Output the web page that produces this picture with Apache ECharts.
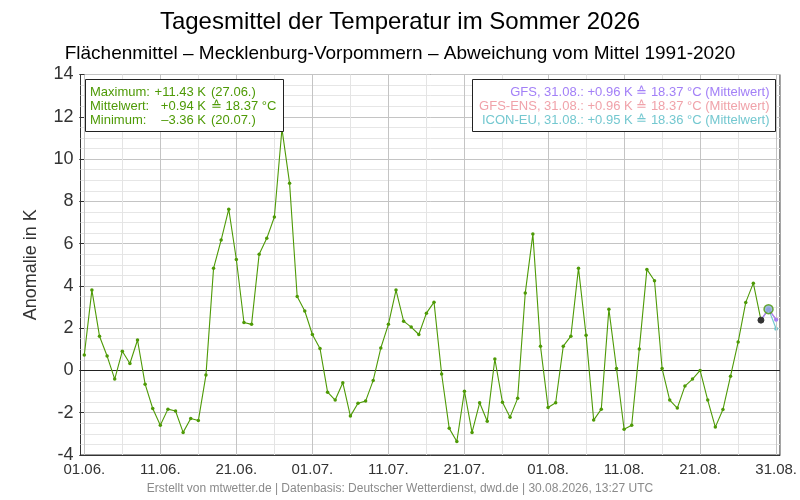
<!DOCTYPE html>
<html>
<head>
<meta charset="utf-8">
<script src="https://cdn.jsdelivr.net/npm/echarts@6/dist/echarts.min.js"></script>
<style>
html,body{margin:0;padding:0;background:#fff;}
#c{width:800px;height:500px;}
</style>
</head>
<body>
<div id="c"></div>
<script>
// ---- data ----
// daily anomalies (K), day 0 = 01.06. ... day 89 = 29.08.
var observed = [
  0.73, 3.80, 1.62, 0.68, -0.41, 0.91, 0.33, 1.44, -0.65, -1.80,
  -2.59, -1.83, -1.92, -2.93, -2.27, -2.37, -0.22, 4.83, 6.17, 7.63,
  5.25, 2.27, 2.18, 5.50, 6.25, 7.26, 11.43, 8.86, 3.50, 2.81,
  1.70, 1.04, -1.03, -1.40, -0.58, -2.16, -1.55, -1.45, -0.47, 1.06,
  2.18, 3.80, 2.33, 2.05, 1.70, 2.71, 3.23, -0.17, -2.74, -3.36,
  -0.98, -2.93, -1.53, -2.40, 0.54, -1.50, -2.21, -1.32, 3.66, 6.45,
  1.15, -1.75, -1.53, 1.15, 1.62, 4.84, 1.66, -2.35, -1.83, 2.90,
  0.09, -2.78, -2.59, 1.01, 4.78, 4.24, 0.09, -1.40, -1.78, -0.74,
  -0.41, 0.00, -1.40, -2.68, -1.85, -0.27, 1.34, 3.22, 4.13, 2.38
];
// forecast days (29.08., 30.08., 31.08.)
var forecastDays = [89, 90, 91];
var gfs     = [2.38, 2.90, 2.40];
var gfsEns  = [2.38, 2.90, 2.42];
var iconEu  = [2.38, 2.90, 1.97];
var todayDay = [90];
var todayValue = [2.90];

var tickDays   = [0, 10, 20, 30, 40, 50, 61, 71, 81, 91];
var tickLabels = ['01.06.', '11.06.', '21.06.', '01.07.', '11.07.', '21.07.', '01.08.', '11.08.', '21.08.', '31.08.'];
var minorDays  = [5, 15, 25, 35, 45, 55, 66, 76, 86];

var statNames  = ['Maximum:', 'Mittelwert:', 'Minimum:'];
var statValues = ['+11.43 K', '+0.94 K', '\u20133.36 K'];
var statExtra  = ['(27.06.)', '\u2259 18.37 \u00b0C', '(20.07.)'];

var modelNames = ['GFS', 'GFS-ENS', 'ICON-EU'];
var modelMeans = ['+0.96 K', '+0.96 K', '+0.95 K'];
var modelTemps = ['18.37 \u00b0C', '18.37 \u00b0C', '18.36 \u00b0C'];
var modelDate  = '31.08.';

// ---- styling ----
var GREEN = '#4e9a06';
var COLORS = ['#a380f7', '#f0a3aa', '#74c8d0'];
var FONT = '"Liberation Sans", Arial, sans-serif';

var labelMap = {};
tickDays.forEach(function (d, i) { labelMap[d] = tickLabels[i]; });

function pairs(days, vals) { return days.map(function (d, i) { return [d, vals[i]]; }); }

var obsData = observed.map(function (v, i) {
  var item = { value: [i, v] };
  if (i === observed.length - 1) {
    item.symbolSize = 6;
    item.itemStyle = { color: '#333', borderColor: '#333' };
  }
  return item;
});

var vLines = [];
tickDays.forEach(function (d) { vLines.push({ xAxis: d, lineStyle: { color: '#c4c4c4', width: 1, type: 'solid' } }); });
minorDays.forEach(function (d) { vLines.push({ xAxis: d, lineStyle: { color: '#e4e4e4', width: 1, type: 'solid' } }); });

function fcSeries(name, vals, color, z) {
  return {
    name: name, type: 'line', data: pairs(forecastDays, vals),
    z: z, symbol: 'circle', symbolSize: 4, showSymbol: true,
    lineStyle: { color: color, width: 1.2 }, itemStyle: { color: color },
    animation: false, silent: true
  };
}

var graphics = [];
// left stats box
graphics.push({ type: 'rect', shape: { x: 85.5, y: 79.5, width: 198, height: 52 }, style: { fill: '#fff', stroke: '#222', lineWidth: 1 }, z: 100 });
statNames.forEach(function (n, i) {
  var y = 92 + i * 14;
  graphics.push({ type: 'text', x: 90, y: y, z: 101, style: { text: n, fill: GREEN, font: '13px ' + FONT, textAlign: 'left', textVerticalAlign: 'middle' } });
  graphics.push({ type: 'text', x: 206, y: y, z: 101, style: { text: statValues[i], fill: GREEN, font: '13px ' + FONT, textAlign: 'right', textVerticalAlign: 'middle' } });
  graphics.push({ type: 'text', x: 211, y: y, z: 101, style: { text: statExtra[i], fill: GREEN, font: '13px ' + FONT, textAlign: 'left', textVerticalAlign: 'middle' } });
});
// right model box
graphics.push({ type: 'rect', shape: { x: 472.5, y: 79.5, width: 303, height: 52 }, style: { fill: '#fff', stroke: '#222', lineWidth: 1 }, z: 100 });
modelNames.forEach(function (n, i) {
  graphics.push({ type: 'text', x: 769.5, y: 92 + i * 14, z: 101,
    style: { text: n + ', ' + modelDate + ': ' + modelMeans[i] + ' \u2259 ' + modelTemps[i] + ' (Mittelwert)',
      fill: COLORS[i], font: '13px ' + FONT, textAlign: 'right', textVerticalAlign: 'middle' } });
});
// footer
graphics.push({ type: 'text', x: 400, y: 489, z: 101,
  style: { text: 'Erstellt von mtwetter.de | Datenbasis: Deutscher Wetterdienst, dwd.de | 30.08.2026, 13:27 UTC',
    fill: '#8a8a8a', font: '12px ' + FONT, textAlign: 'center', textVerticalAlign: 'middle' } });

var chart = echarts.init(document.getElementById('c'));
chart.setOption({
  animation: false,
  backgroundColor: '#fff',
  textStyle: { fontFamily: FONT },
  title: [
    { text: 'Tagesmittel der Temperatur im Sommer 2026', left: 'center', top: 5,
      textStyle: { fontSize: 24, fontWeight: 'normal', color: '#000', fontFamily: FONT } },
    { text: 'Fl\u00e4chenmittel \u2013 Mecklenburg-Vorpommern \u2013 Abweichung vom Mittel 1991-2020', left: 'center', top: 39,
      textStyle: { fontSize: 19, fontWeight: 'normal', color: '#000', fontFamily: FONT } }
  ],
  grid: { left: 80.5, right: 20, top: 74.5, bottom: 45, show: true, borderColor: '#333', borderWidth: 1, containLabel: false },
  xAxis: {
    type: 'value', min: -0.5, max: 91.5, interval: 0.5,
    axisLine: { show: true, onZero: false, lineStyle: { color: '#333' } },
    axisTick: { show: false },
    splitLine: { show: false },
    axisLabel: {
      color: '#333', fontSize: 15, margin: 7, fontFamily: FONT,
      formatter: function (v) { var k = Math.round(v * 2) / 2; return labelMap[k] !== undefined ? labelMap[k] : ''; }
    }
  },
  yAxis: {
    type: 'value', min: -4, max: 14, interval: 2,
    name: 'Anomalie in K', nameLocation: 'middle', nameGap: 40,
    nameTextStyle: { fontSize: 18, color: '#333', fontFamily: FONT },
    axisLine: { show: true, lineStyle: { color: '#333' } },
    axisTick: { show: true, length: 5, lineStyle: { color: '#333' } },
    axisLabel: { color: '#333', fontSize: 18, margin: 7, fontFamily: FONT },
    splitLine: { show: true, lineStyle: { color: '#c4c4c4', width: 1 } },
    minorTick: { show: false, splitNumber: 4 },
    minorSplitLine: { show: true, lineStyle: { color: '#e6e6e6', width: 1 } }
  },
  graphic: graphics,
  series: [
    {
      name: 'grid', type: 'line', data: [], z: 1, silent: true,
      markLine: {
        silent: true, symbol: 'none', animation: false,
        label: { show: false },
        data: vLines.concat([{ yAxis: 0, lineStyle: { color: '#222', width: 1, type: 'solid' } }])
      }
    },
    fcSeries('ICON-EU', iconEu, COLORS[2], 3),
    fcSeries('GFS-ENS', gfsEns, COLORS[1], 4),
    fcSeries('GFS', gfs, COLORS[0], 5),
    {
      name: 'Beobachtung', type: 'line', data: obsData, z: 6,
      symbol: 'circle', symbolSize: 3.5, showSymbol: true,
      lineStyle: { color: GREEN, width: 1.1 }, itemStyle: { color: GREEN },
      silent: true
    },
    {
      name: 'heute', type: 'scatter', data: pairs(todayDay, todayValue), z: 7,
      symbol: 'circle', symbolSize: 9,
      itemStyle: { color: '#8aa9d8', borderColor: GREEN, borderWidth: 1.5 },
      silent: true
    }
  ]
});
</script>
</body>
</html>
